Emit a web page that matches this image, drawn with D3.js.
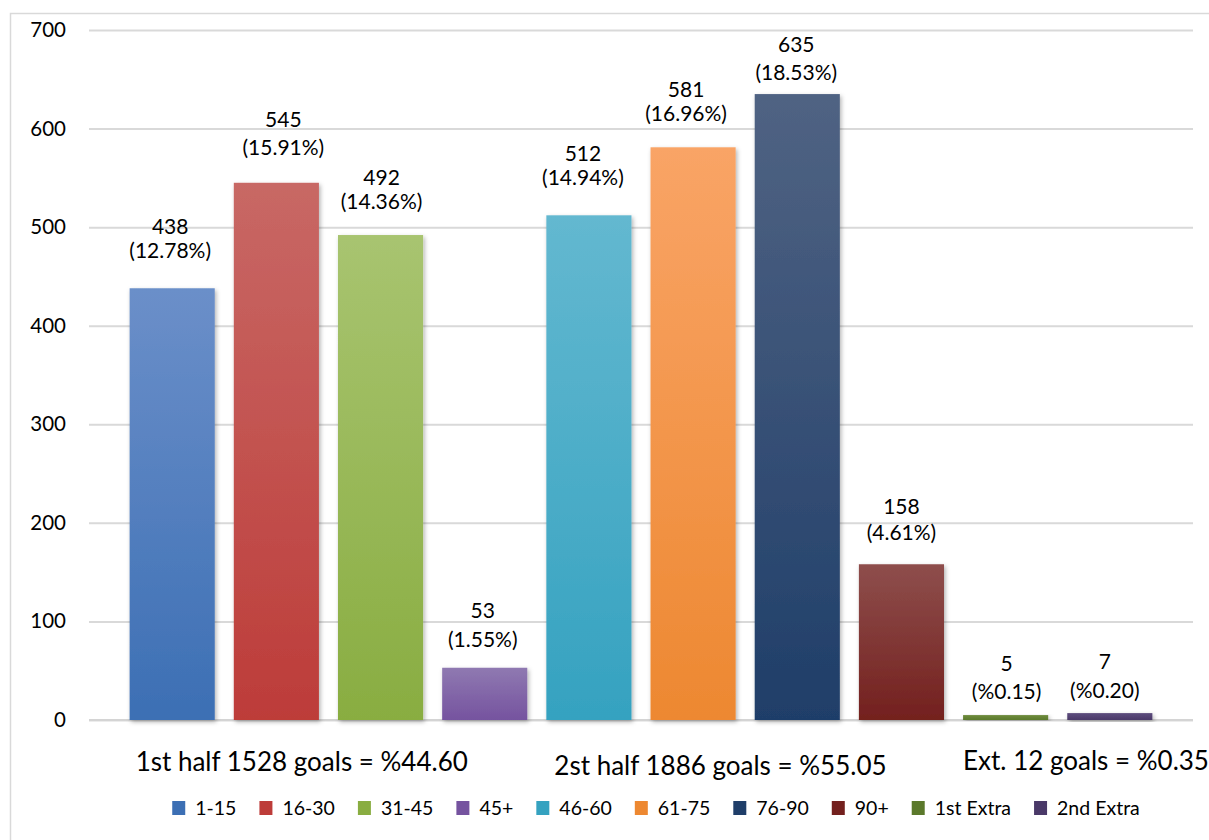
<!DOCTYPE html>
<html>
<head>
<meta charset="utf-8">
<script src="https://cdn.jsdelivr.net/npm/d3@7"></script>
<style>
  html, body { margin: 0; padding: 0; background: #fff; }
  svg { display: block; font-family: Lato, "Open Sans", sans-serif; }
</style>
</head>
<body>
<svg id="chart" width="1209" height="840"></svg>
<script>
// ---- data ----
const categories = ["1-15", "16-30", "31-45", "45+", "46-60", "61-75", "76-90", "90+", "1st Extra", "2nd Extra"];
const goals = [438, 545, 492, 53, 512, 581, 635, 158, 5, 7];
const pctLabels = ["(12.78%)", "(15.91%)", "(14.36%)", "(1.55%)", "(14.94%)", "(16.96%)", "(18.53%)", "(4.61%)", "(%0.15)", "(%0.20)"];
const yTicks = [0, 100, 200, 300, 400, 500, 600, 700];
const groupLabels = ["1st half 1528 goals = %44.60", "2st half 1886 goals = %55.05", "Ext. 12 goals = %0.35"];
const groupFirstCategory = ["1-15", "46-60", "1st Extra"];

// ---- styles / layout ----
const colorTop = ["#6b8fc9", "#c86865", "#a8c470", "#8f79b1", "#63b8d0", "#f9a466", "#506383", "#8e4e4c", "#6f8c3f", "#5e4d7e"];
const colorBottom = ["#3c6fb4", "#bd3c39", "#89ad41", "#75539f", "#35a2c0", "#ed8831", "#1f3e69", "#73201e", "#5b792b", "#4a3968"];
// manual label placement (pixels above bar top), as in the original hand-placed labels
const valueLift = [54, 56, 50, 50, 54, 50, 42, 50, 44, 44];
const pctLift = [30, 28, 26, 21, 30, 26, 14, 24, 16, 15];
const labelShiftX = [-2, 7, 1, -2, -6, -7, -1, 0, 1, -5];
const groupLabelShiftX = [6, 8, 0];
const groupLabelShiftY = [0, 4, -1];

const svg = d3.select("#chart");
const W = 1209, H = 840;
const plotLeft = 89, plotRight = 1193, plotTop = 30, plotBottom = 720;

svg.append("rect").attr("width", W).attr("height", H).attr("fill", "#fff");
// outer chart border (extends past the right/bottom edges as in the reference)
svg.append("rect")
  .attr("x", 10.5).attr("y", 13.5).attr("width", W + 20).attr("height", H + 20)
  .attr("fill", "none").attr("stroke", "#d9d9d9").attr("stroke-width", 1.5);

const defs = svg.append("defs");
const shadow = defs.append("filter").attr("id", "shadow")
  .attr("x", "-20%").attr("y", "-20%").attr("width", "140%").attr("height", "140%");
shadow.append("feDropShadow").attr("dx", 1.5).attr("dy", 2).attr("stdDeviation", 2.2)
  .attr("flood-color", "#000").attr("flood-opacity", 0.3);

categories.forEach((c, i) => {
  const g = defs.append("linearGradient").attr("id", "grad" + i)
    .attr("x1", 0).attr("y1", 0).attr("x2", 0).attr("y2", 1);
  g.append("stop").attr("offset", "0%").attr("stop-color", colorTop[i]);
  g.append("stop").attr("offset", "100%").attr("stop-color", colorBottom[i]);
});

const x = d3.scaleBand().domain(categories).range([plotLeft, plotRight])
  .paddingInner(0.183).paddingOuter(0.39);
const y = d3.scaleLinear().domain([0, 700]).range([plotBottom, plotTop]);

// gridlines + y axis
const yAxis = d3.axisLeft(y).tickValues(yTicks).tickSizeInner(-(plotRight - plotLeft))
  .tickSizeOuter(0).tickPadding(23);
const ga = svg.append("g").attr("transform", `translate(${plotLeft},0)`).call(yAxis);
ga.select(".domain").remove();
ga.selectAll(".tick line").attr("stroke", "#d9d9d9").attr("stroke-width", 2);
ga.selectAll(".tick text").attr("fill", "#000").style("font-size", "20.5px")
  .style("font-family", "Lato, sans-serif");

// zero line
svg.append("line")
  .attr("x1", plotLeft).attr("x2", plotRight).attr("y1", y(0)).attr("y2", y(0))
  .attr("stroke", "#d4d4d4").attr("stroke-width", 2);

const data = categories.map((c, i) => ({ c, v: goals[i], p: pctLabels[i], i }));

svg.append("g").selectAll("rect").data(data).join("rect")
  .attr("x", d => x(d.c))
  .attr("y", d => y(d.v))
  .attr("width", x.bandwidth())
  .attr("height", d => y(0) - y(d.v))
  .attr("fill", d => `url(#grad${d.i})`)
  .attr("filter", "url(#shadow)");

const lab = svg.append("g").attr("text-anchor", "middle").attr("fill", "#000")
  .style("font-size", "21px");
lab.selectAll("text.v").data(data).join("text").attr("class", "v")
  .attr("x", d => x(d.c) + x.bandwidth() / 2 + labelShiftX[d.i])
  .attr("y", d => y(d.v) - valueLift[d.i])
  .text(d => d.v);
lab.selectAll("text.p").data(data).join("text").attr("class", "p")
  .attr("x", d => x(d.c) + x.bandwidth() / 2 + labelShiftX[d.i])
  .attr("y", d => y(d.v) - pctLift[d.i])
  .text(d => d.p);

// group labels under the bars
svg.append("g").selectAll("text").data(groupLabels).join("text")
  .attr("x", (d, i) => x(groupFirstCategory[i]) + groupLabelShiftX[i])
  .attr("y", (d, i) => y(0) + 51 + groupLabelShiftY[i])
  .attr("fill", "#000").style("font-size", "26px")
  .text(d => d);

// legend
const legend = svg.append("g").style("font-size", "19.5px");
const items = legend.selectAll("g").data(categories).join("g");
items.append("rect").attr("width", 13).attr("height", 14).attr("y", -14)
  .attr("fill", (d, i) => colorBottom[i]);
items.append("text").attr("x", 23).attr("y", 0).attr("fill", "#000").text(d => d);
let cx = 0;
const offsets = [];
items.each(function () {
  const w = d3.select(this).select("text").node().getComputedTextLength();
  offsets.push(cx);
  cx += 23 + w + 23;
});
const total = cx - 23;
const legendStart = 656 - total / 2;
items.attr("transform", (d, i) => `translate(${legendStart + offsets[i]},815)`);
</script>
</body>
</html>
